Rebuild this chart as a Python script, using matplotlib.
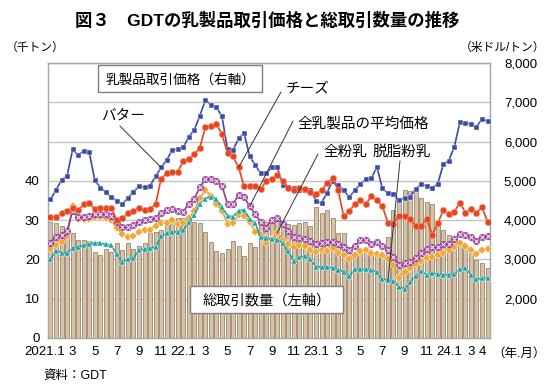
import matplotlib
matplotlib.use('Agg')
import matplotlib.pyplot as plt
from matplotlib.patches import Rectangle
from matplotlib.transforms import ScaledTranslation

plt.rcParams['font.family'] = ['Liberation Sans', 'Noto Sans CJK JP', 'DejaVu Sans']

# GDT auctions, two per month, 2021.1 - 2024.4
volume = [29.6, 29.2, 28.4, 25.6, 26.7, 25.0, 25.0, 24.7, 22.0, 21.1,
          22.7, 21.8, 24.1, 22.4, 24.1, 22.7, 23.5, 24.1, 26.7, 27.1,
          27.5, 28.8, 30.0, 30.5, 30.6, 30.6, 29.6, 29.2, 27.1, 24.5,
          22.2, 21.6, 22.7, 24.8, 23.5, 21.0, 24.2, 23.2, 29.0, 29.6,
          30.2, 29.8, 29.2, 29.0, 28.8, 29.2, 29.5, 28.4, 33.4, 31.7,
          32.5, 30.6, 26.7, 26.7, 21.8, 21.6, 22.0, 22.0, 21.1, 21.5,
          21.1, 25.8, 32.6, 35.5, 37.7, 37.4, 37.3, 35.7, 34.7, 34.0,
          28.8, 27.5, 26.2, 25.4, 24.7, 22.8, 21.6, 19.9, 19.0, 17.8]

butter = [4530, 4767, 5021, 5123, 5802, 5650, 5768, 5734, 5021, 4830,
          4715, 4585, 4490, 4405, 4570, 4720, 4860, 4840, 4880, 5115,
          5340, 5529, 5784, 5809, 5852, 6122, 6300, 6660, 7056, 6930,
          6870, 6640, 5800, 5785, 6080, 6210, 5630, 5400, 5190, 5190,
          5340, 5340, 4893, 4850, 4810, 4766, 4766, 4766, 4490, 4440,
          4700, 5003, 4893, 4766, 4580, 4766, 4910, 5038, 5064, 5359,
          4809, 4682, 4664, 4511, 4570, 4600, 4784, 4919, 4868, 4826,
          4919, 5420, 5515, 5865, 6490, 6479, 6445, 6377, 6569, 6522]

cheese = [4070, 4070, 4170, 4245, 4300, 4250, 4400, 4430, 4280, 4300,
          4310, 4310, 3995, 4045, 4170, 4220, 4310, 4270, 4290, 4405,
          5055, 5190, 5216, 5232, 5500, 5560, 5680, 5840, 6370, 6390,
          6450, 6190, 5700, 5620, 5343, 4860, 4880, 4860, 4784, 5000,
          5040, 5148, 5000, 4830, 4775, 4820, 4790, 4720, 4670, 4766,
          4935, 5064, 4760, 4100, 4230, 4400, 4500, 4400, 4620, 4500,
          4350, 3934, 3900, 4117, 4094, 4037, 3841, 3850, 4033, 3621,
          3918, 4248, 4164, 4214, 4448, 4194, 4280, 4194, 4333, 3960]

average = [3426, 3580, 3620, 3720, 4241, 4070, 4085, 4105, 4150, 4160,
           4150, 4110, 3960, 3820, 3820, 3880, 3955, 4010, 4020, 4060,
           4170, 4260, 4280, 4225, 4215, 4415, 4545, 4835, 5055, 5040,
           4990, 4870, 4415, 4415, 4635, 4595, 4350, 4150, 3960, 3810,
           4010, 4060, 3910, 3720, 3580, 3550, 3520, 3470, 3390, 3415,
           3450, 3440, 3380, 3320, 3240, 3350, 3494, 3494, 3390, 3440,
           3330, 3250, 3070, 2858, 2900, 2942, 3028, 3171, 3257, 3308,
           3324, 3392, 3392, 3511, 3647, 3621, 3579, 3477, 3579, 3596]

wmp = [3275, 3375, 3450, 3600, 4350, 4040, 4020, 4040, 4080, 4080,
       4060, 4000, 3800, 3650, 3570, 3600, 3690, 3760, 3760, 3860,
       3920, 3918, 4010, 3890, 3918, 4050, 4230, 4555, 4767, 4614,
       4410, 4241, 3910, 3935, 4130, 4105, 3960, 3706, 3621, 3420,
       3520, 3680, 3500, 3390, 3320, 3367, 3330, 3230, 3197, 3240,
       3220, 3300, 3175, 3112, 3010, 3110, 3220, 3240, 3175, 3150,
       3112, 3000, 2858, 2530, 2688, 2773, 2880, 2955, 3035, 3060,
       3100, 3168, 3240, 3324, 3426, 3345, 3250, 3146, 3250, 3257]

smp = [3015, 3210, 3175, 3165, 3290, 3324, 3360, 3392, 3426, 3409,
       3392, 3360, 3135, 2945, 3002, 3040, 3250, 3257, 3282, 3324,
       3590, 3660, 3690, 3706, 3740, 3960, 4130, 4420, 4550, 4600,
       4530, 4325, 4110, 4088, 4235, 4270, 4030, 3920, 3560, 3545,
       3515, 3507, 3409, 3210, 2950, 3065, 3080, 3000, 2820, 2807,
       2800, 2786, 2740, 2688, 2575, 2748, 2748, 2748, 2731, 2670,
       2506, 2467, 2446, 2306, 2250, 2433, 2575, 2700, 2603, 2655,
       2620, 2610, 2610, 2629, 2752, 2774, 2616, 2493, 2519, 2519]

tick_months = [(2021, 1), (2021, 3), (2021, 5), (2021, 7), (2021, 9), (2021, 11),
               (2022, 1), (2022, 3), (2022, 5), (2022, 7), (2022, 9), (2022, 11),
               (2023, 1), (2023, 3), (2023, 5), (2023, 7), (2023, 9), (2023, 11),
               (2024, 1), (2024, 3), (2024, 4)]
tick_labels = ['2021.1', '3', '5', '7', '9', '11', '22.1', '3', '5', '7', '9', '11',
               '23.1', '3', '5', '7', '9', '11', '24.1', '3', '4']

W, H = 550, 386


def fx(x, y):
    return x / W, 1 - y / H


x = list(range(len(volume)))
tick_pos = [2 * ((yy - 2021) * 12 + mm - 1) for yy, mm in tick_months]

fig = plt.figure(figsize=(5.5, 3.86), dpi=100)
left, right, top, bottom = 48, 490, 63, 338
ax = fig.add_axes([left / W, 1 - bottom / H, (right - left) / W, (bottom - top) / H])
ax2 = ax.twinx()

ax.bar(x, volume, width=0.72, color='#D9C1A2', edgecolor='#857565', linewidth=0.5, zorder=2)
ax.set_ylim(0, 70)
ax.set_xlim(-0.45, 79.45)
ax.set_yticks(range(0, 80, 10))
ax.set_yticklabels(['0', '10', '20', '30', '40', '', '', ''])
ax.grid(axis='y', color='#C4C4C4', linewidth=1.0, zorder=0)
ax.set_axisbelow(True)
ax.set_xticks(tick_pos)
ax.set_xticklabels(tick_labels)
ax.tick_params(axis='both', length=0, labelsize=9.5, colors='black')
ax.tick_params(axis='y', pad=6)
ax.tick_params(axis='x', pad=6)
# first label sits a little left so it does not run into "3"
first = ax.get_xticklabels()[0]
first.set_transform(first.get_transform() + ScaledTranslation(-4 / 72, 0, fig.dpi_scale_trans))

ax2.set_ylim(1000, 8000)
ax2.set_yticks(range(1000, 9000, 1000))
ax2.set_yticklabels([''] + ['{:,}'.format(v) for v in range(2000, 9000, 1000)])
ax2.tick_params(axis='y', length=0, labelsize=9.5, pad=10)

ax2.plot(x, butter, color='#3B4BA5', lw=1.2, marker='s', ms=3.6, mec='white', mew=0.3, zorder=5)
ax2.plot(x, cheese, color='#E8441E', lw=1.2, marker='o', ms=4.6, mec='#F7A080', mew=0.4, zorder=5)
ax2.plot(x, average, color='#8E3C8E', lw=1.2, marker='o', ms=4.8, mfc='#9E3FA0', mec='#9E3FA0', mew=0.3, zorder=4)
ax2.plot(x, average, lw=0, marker='x', ms=2.6, mec='white', mew=0.7, zorder=4)
ax2.plot(x, wmp, color='#E4962C', lw=1.2, marker='D', ms=3.6, mfc='#F4A834', mec='white', mew=0.3, zorder=3)
ax2.plot(x, smp, color='#1E9E9A', lw=1.2, marker='^', ms=4.4, mfc='#1FA6A2', mec='white', mew=0.3, zorder=3)

for a in (ax, ax2):
    for s in a.spines.values():
        s.set_color('#A8A8A8')
        s.set_linewidth(0.9)

fig.text(*fx(267, 20), '図３　GDTの乳製品取引価格と総取引数量の推移', ha='center', va='center',
         fontsize=12.5, fontweight='bold')
fig.text(*fx(6, 48), '（千トン）', ha='left', va='center', fontsize=8.5)
fig.text(*fx(545, 48), '（米ドル/トン）', ha='right', va='center', fontsize=8.5)
fig.text(*fx(492, 354), '（年.月）', ha='left', va='center', fontsize=9)
fig.text(*fx(43, 376), '資料：GDT', ha='left', va='center', fontsize=9)

# boxed labels
for (x0, y0, x1, y1), label, size in [((98, 65, 262, 92), '乳製品取引価格（右軸）', 9.8),
                                       ((190, 286, 343, 313), '総取引数量（左軸）', 10.3)]:
    rect = Rectangle(fx(x0, y1), (x1 - x0) / W, (y1 - y0) / H, transform=fig.transFigure,
                     facecolor='white', edgecolor='#7F7F7F', linewidth=1.0, zorder=10)
    fig.add_artist(rect)
    fig.text(*fx((x0 + x1) / 2, (y0 + y1) / 2 + 1), label, ha='center', va='center',
             fontsize=size, zorder=11)

# series labels with leader lines
labels = [('バター', (101, 116), (120, 126), butter, 20),
          ('チーズ', (286, 89), (281, 92), cheese, 34),
          ('全乳製品の平均価格', (297, 124), (293, 121), average, 36),
          ('全粉乳', (323, 152), (318, 154), wmp, 41),
          ('脱脂粉乳', (373, 152), (400, 161), smp, 61)]
for text, tpos, lstart, series, idx in labels:
    fig.text(*fx(*tpos), text, ha='left', va='center', fontsize=10.5, zorder=11)
    ax2.annotate('', xy=(idx, series[idx]), xycoords='data',
                 xytext=fx(*lstart), textcoords='figure fraction',
                 arrowprops=dict(arrowstyle='-', color='#333333', lw=0.7,
                                 shrinkA=0, shrinkB=0), zorder=8)

fig.savefig('out.png', dpi=100)
